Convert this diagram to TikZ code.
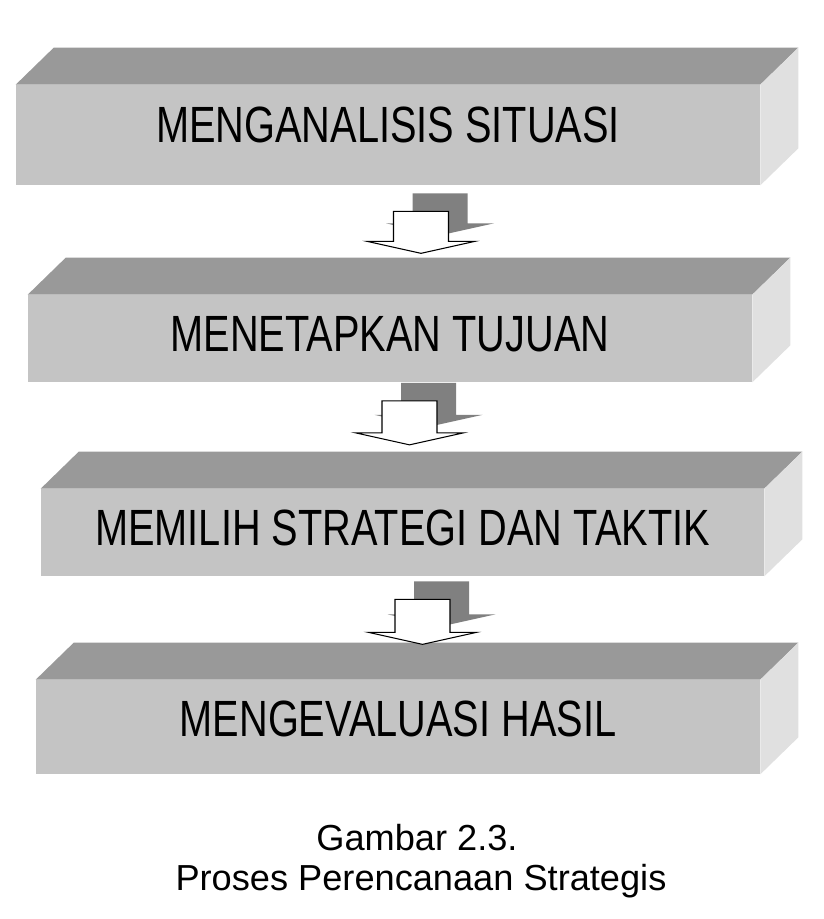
\documentclass[tikz,border=0pt]{standalone}
\usepackage{fontspec}
\usetikzlibrary{calc}
\newfontfamily\boxfont[FakeStretch=0.78]{Liberation Sans}
\newfontfamily\judulfont{Liberation Sans}
\definecolor{topgray}{gray}{0.6}
\definecolor{frontgray}{gray}{0.77}
\definecolor{sidegray}{gray}{0.88}
\definecolor{shadowgray}{gray}{0.5}
\tikzset{stepbox/.style={fill=frontgray,inner sep=0pt,font=\boxfont\fontsize{29}{33}\selectfont}}
\tikzset{topface/.style={fill=topgray},sideface/.style={fill=sidegray}}
\tikzset{arrowbody/.style={fill=white,draw=black,line width=0.6pt}}
\tikzset{flowarrow/.pic={
		\fill [shadowgray] (19,-18) ++(-27.5,0) -- ++(55,0) -- ++(0,#1) -- ++(26.5,0)
			-- ++(-54,12) -- ++(-54,-12) -- ++(26.5,0) -- cycle;
		\filldraw [arrowbody] (-27.5,0) -- ++(55,0) -- ++(0,#1) -- ++(26.5,0)
			-- ++(-54,12) -- ++(-54,-12) -- ++(26.5,0) -- cycle;
	}}
\begin{document}
\begin{tikzpicture}[x=0.02cm,y=-0.02cm,
											caption/.style={font=\judulfont\fontsize{20.6}{24}\selectfont,anchor=base,inner sep=0pt}]

		% Latar dan batas gambar
		\fill [white] (0,0) rectangle (823,919);
		\useasboundingbox (0,0) rectangle (823,919);

		% Sisi depan keempat balok
		\node [stepbox,minimum width=14.88cm,minimum height=2cm,text depth=0.4cm]
			(analisis) at (388,135) {MENGANALISIS SITUASI};
		\node [stepbox,minimum width=14.48cm,minimum height=1.74cm,text depth=0.18cm]
			(tujuan) at (390,338.5) {MENETAPKAN TUJUAN};
		\node [stepbox,minimum width=14.46cm,minimum height=1.74cm,text depth=0.18cm]
			(strategi) at (402.5,532.5) {MEMILIH STRATEGI DAN TAKTIK};
		\node [stepbox,minimum width=14.48cm,minimum height=1.88cm,text depth=0.32cm]
			(evaluasi) at (398,727) {MENGEVALUASI HASIL};

		% Sisi atas dan sisi kanan
		\foreach \b in {analisis,tujuan,strategi,evaluasi} {
			\fill [topface] (\b.north west) -- ($(\b.north west)+(38,-37)$)
				-- ($(\b.north east)+(38,-37)$) -- (\b.north east) -- cycle;
			\fill [sideface] (\b.north east) -- ($(\b.north east)+(38,-37)$)
				-- ($(\b.south east)+(38,-37)$) -- (\b.south east) -- cycle;
		}

		% Panah di antara balok
		\pic at ($(analisis.south)+(33,26)$) {flowarrow=30};
		\pic at ($(tujuan.south)+(19.5,18.5)$) {flowarrow=32};
		\pic at ($(strategi.south)+(20,23)$) {flowarrow=33};

		% Judul gambar
		\node [caption] (gambar) at (417,850) {Gambar 2.3.};
		\node [caption] (judul) at (421,890) {Proses Perencanaan Strategis};

	\end{tikzpicture}
\end{document}
